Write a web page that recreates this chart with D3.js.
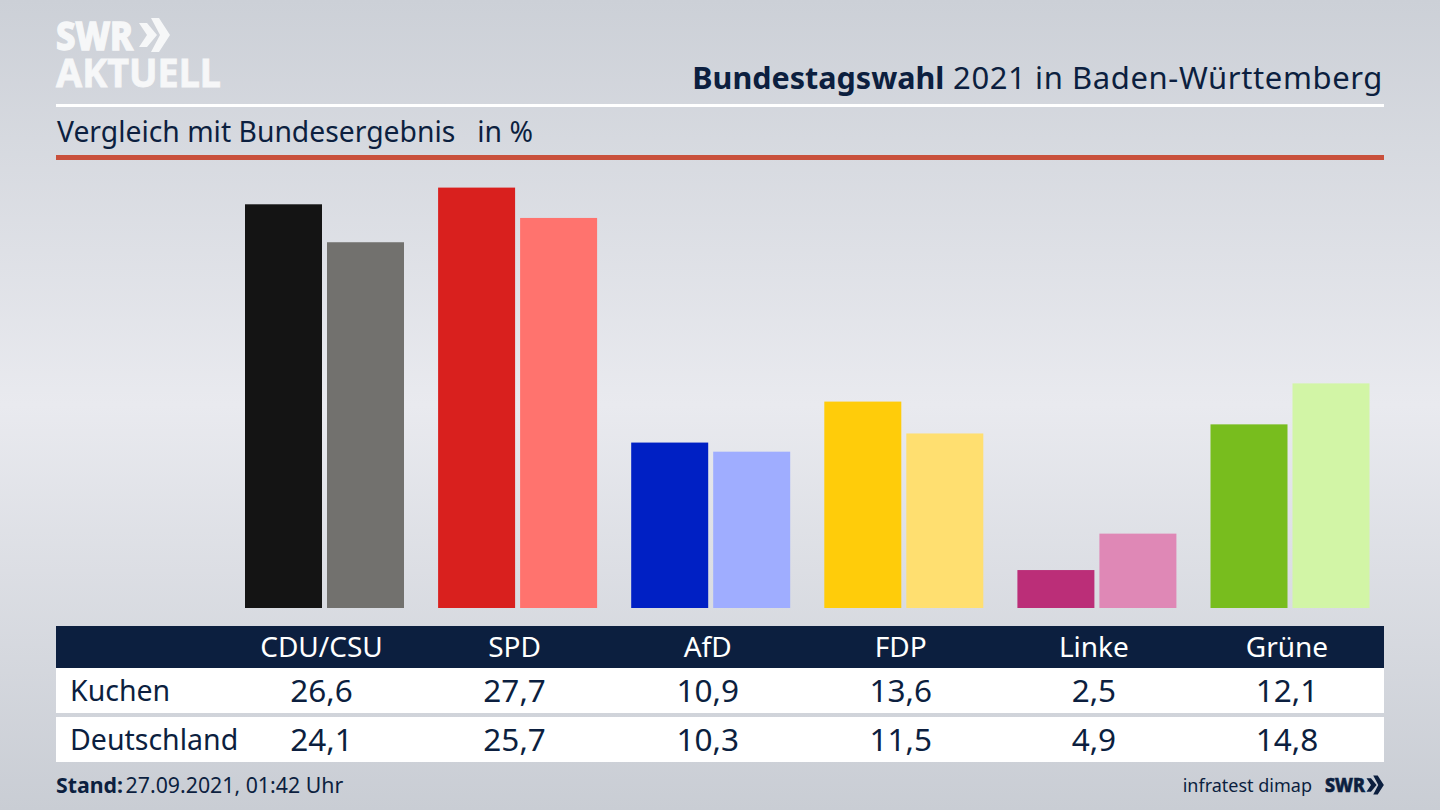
<!DOCTYPE html>
<html>
<head>
<meta charset="utf-8">
<script src="https://cdn.jsdelivr.net/npm/d3@7"></script>
<style>
  html, body { margin: 0; padding: 0; background: #d5d8de; overflow: hidden; }
  text { font-family: "Noto Sans", sans-serif; fill: #0c1f3f; }
</style>
</head>
<body>
<svg id="chart" width="1440" height="810"></svg>
<script>
const parties = ['CDU/CSU', 'SPD', 'AfD', 'FDP', 'Linke', 'Grüne'];
const regions = ['Kuchen', 'Deutschland'];
const kuchen = [26.6, 27.7, 10.9, 13.6, 2.5, 12.1];
const deutschland = [24.1, 25.7, 10.3, 11.5, 4.9, 14.8];
const colorsKuchen = ['#141414', '#d9201e', '#0020c4', '#ffcc0a', '#bb2e78', '#78bd1e'];
const colorsDeutschland = ['#72716e', '#ff736e', '#9fadff', '#ffdf70', '#df88b6', '#d2f5a6'];

const svg = d3.select('#chart');
const fmt = v => d3.format('.1f')(v).replace('.', ',');

// background
const defs = svg.append('defs');
const grad = defs.append('linearGradient').attr('id', 'bg').attr('x1', 0).attr('y1', 0).attr('x2', 0).attr('y2', 1);
grad.append('stop').attr('offset', '0%').attr('stop-color', '#ccd0d7');
grad.append('stop').attr('offset', '50%').attr('stop-color', '#e9eaef');
grad.append('stop').attr('offset', '100%').attr('stop-color', '#c9cdd4');
svg.append('rect').attr('width', 1440).attr('height', 810).attr('fill', 'url(#bg)');

// swr chevrons: small one in front of a bigger one
const chevron = d3.line();
function chevrons(k, ox, oy, color) {
  const shapes = [
    [[0, 5], [8, 5], [18, 17], [8, 29], [0, 29], [8, 17]],
    [[12, 0], [20, 0], [31, 17], [20, 34], [12, 34], [21, 17]]
  ];
  shapes.forEach(s => {
    svg.append('path')
      .attr('d', chevron(s.map(([a, b]) => [ox + a * k, oy + b * k])) + 'Z')
      .attr('fill', color);
  });
}

// logo
svg.append('text').attr('x', 56).attr('y', 50).attr('font-size', 40).attr('font-weight', 800)
  .style('fill', '#f6f7f8').style('stroke', '#f6f7f8').style('stroke-width', 1.4)
  .attr('textLength', 77).attr('lengthAdjust', 'spacingAndGlyphs').text('SWR');
chevrons(1, 139, 18, '#f6f7f8');
svg.append('text').attr('x', 56).attr('y', 87).attr('font-size', 40).attr('font-weight', 700)
  .style('fill', '#f6f7f8').style('stroke', '#f6f7f8').style('stroke-width', 0.8)
  .attr('textLength', 165).attr('lengthAdjust', 'spacingAndGlyphs').text('AKTUELL');

// header
const title = svg.append('text').attr('x', 1383).attr('y', 89).attr('text-anchor', 'end');
title.append('tspan').attr('font-weight', 700).attr('font-size', 30.5).text('Bundestagswahl');
title.append('tspan').attr('font-size', 31).style('letter-spacing', '0.6px').text(' 2021 in Baden-Württemberg');
svg.append('rect').attr('x', 56).attr('y', 104).attr('width', 1328).attr('height', 3).attr('fill', '#fff');
svg.append('text').attr('x', 57).attr('y', 142).attr('font-size', 28.3).attr('xml:space', 'preserve')
  .text('Vergleich mit Bundesergebnis   in %');
svg.append('rect').attr('x', 56).attr('y', 155).attr('width', 1328).attr('height', 5).attr('fill', '#c9503c');

// bars
const y = d3.scaleLinear().domain([0, 27.7]).range([608, 187.6]);
const x0 = d3.scaleBand().domain(parties).range([245, 1369.5]).paddingInner(0.1766);
const x1 = d3.scaleBand().domain(regions).range([0, x0.bandwidth()]).paddingInner(0.061);

const groups = svg.append('g').selectAll('g').data(parties).join('g')
  .attr('transform', d => `translate(${x0(d)},0)`);
groups.append('rect')
  .attr('x', x1('Kuchen')).attr('width', x1.bandwidth())
  .attr('y', (d, i) => y(kuchen[i])).attr('height', (d, i) => y(0) - y(kuchen[i]))
  .attr('fill', (d, i) => colorsKuchen[i]);
groups.append('rect')
  .attr('x', x1('Deutschland')).attr('width', x1.bandwidth())
  .attr('y', (d, i) => y(deutschland[i])).attr('height', (d, i) => y(0) - y(deutschland[i]))
  .attr('fill', (d, i) => colorsDeutschland[i]);

// table
const textX = d => x0(d) + x0.bandwidth() / 2 - 3;
svg.append('rect').attr('x', 56).attr('y', 626).attr('width', 1328).attr('height', 42).attr('fill', '#0c1f3f');
svg.append('rect').attr('x', 56).attr('y', 668).attr('width', 1328).attr('height', 45).attr('fill', '#fff');
svg.append('rect').attr('x', 56).attr('y', 717).attr('width', 1328).attr('height', 45).attr('fill', '#fff');

svg.append('g').selectAll('text').data(parties).join('text')
  .attr('x', textX).attr('y', 657).attr('text-anchor', 'middle').attr('font-size', 28)
  .style('fill', '#fff').text(d => d);

[[kuchen, 701], [deutschland, 750]].forEach(([vals, base], r) => {
  svg.append('text').attr('x', 70).attr('y', base).attr('font-size', 28.5).text(regions[r]);
  svg.append('g').selectAll('text').data(parties).join('text')
    .attr('x', textX).attr('y', base + 1).attr('text-anchor', 'middle').attr('font-size', 31.5)
    .text((d, i) => fmt(vals[i]));
});

// footer
const stand = svg.append('text').attr('x', 56).attr('y', 793).attr('font-size', 21.3);
stand.append('tspan').attr('font-weight', 700).text('Stand:');
stand.append('tspan').attr('dx', -3).text(' 27.09.2021, 01:42 Uhr');
svg.append('text').attr('x', 1312).attr('y', 792).attr('text-anchor', 'end').attr('font-size', 18).text('infratest dimap');
svg.append('text').attr('x', 1325).attr('y', 792).attr('font-size', 20).attr('font-weight', 800)
  .style('stroke', '#0c1f3f').style('stroke-width', 0.6)
  .attr('textLength', 40).attr('lengthAdjust', 'spacingAndGlyphs').text('SWR');
chevrons(0.56, 1366.5, 775.5, '#0c1f3f');
</script>
</body>
</html>
